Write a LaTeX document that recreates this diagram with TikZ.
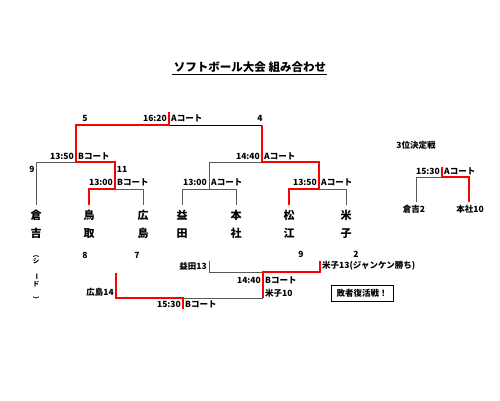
\documentclass[tikz,border=0pt]{standalone}
\usepackage{fontspec}
\setmainfont{Noto Sans CJK JP}
\usepackage{graphicx}
\begin{document}
\begin{tikzpicture}[x=1pt,y=-1pt,
  gl/.style={draw=black!65,line width=0.9pt},
  bl/.style={draw=black,line width=0.9pt},
  rl/.style={draw=red,line width=2pt,line join=miter},
  lab/.style={font=\bfseries\fontsize{8.5}{9}\selectfont,inner sep=0pt},
  team/.style={font=\bfseries\fontsize{11}{17.5}\selectfont,align=center,inner sep=0pt},
  num/.style={font=\bfseries\fontsize{8.5}{9}\selectfont,inner sep=0pt}]
\useasboundingbox (0,0) rectangle (500,400);
% title
\node[font=\bfseries\fontsize{11.5}{12}\selectfont,inner sep=0pt] (title) at (250,67) {ソフトボール大会 組み合わせ};
\coordinate (ul1) at (172,74); \coordinate (ul2) at (327,74);
\draw[line width=1pt] (ul1) -- (ul2);
% coordinates main bracket
\coordinate (Ft) at (169,112); \coordinate (F) at (169,125);
\coordinate (FL) at (76,125); \coordinate (FR) at (262,125);
\coordinate (SL) at (76,162); \coordinate (SLl) at (36,162); \coordinate (SLr) at (115,162);
\coordinate (Kb) at (36,205);
\coordinate (M1) at (115,189); \coordinate (M1l) at (89,189); \coordinate (M1r) at (143,189);
\coordinate (Tb) at (89,205); \coordinate (Hb) at (143,205);
\coordinate (SR) at (262,162); \coordinate (SRl) at (209,162); \coordinate (SRr) at (319,162);
\coordinate (M2) at (209,189); \coordinate (M2l) at (182,189); \coordinate (M2r) at (236,189);
\coordinate (Mb) at (182,205); \coordinate (Hsb) at (236,205);
\coordinate (M3) at (319,189); \coordinate (M3l) at (289,189); \coordinate (M3r) at (346,189);
\coordinate (Mtb) at (289,205); \coordinate (Yb) at (346,205);
% gray / black lines
\draw[bl] (F) -- (FR);
\draw[gl] (Kb) -- (SLl) -- (SL);
\draw[gl] (M1) -- (M1r) -- (Hb);
\draw[gl] (SR) -- (SRl) -- (M2);
\draw[gl] (Mb) -- (M2l) -- (M2r) -- (Hsb);
\draw[gl] (M3) -- (M3r) -- (Yb);
% red
\draw[rl] (Ft) -- (F) -- (FL) -- (SL) -- (SLr) -- (M1) -- (M1l) -- (Tb);
\draw[rl] (FR) -- (SR) -- (SRr) -- (M3) -- (M3l) -- (Mtb);
% labels
\node[lab,anchor=east] (t1) at (167,118) {16:20}; \node[lab,anchor=west] (c1) at (171,118) {Aコート};
\node[num] (n5) at (85,118) {5}; \node[num] (n4) at (260,118) {4};
\node[lab,anchor=east] (t2) at (74,156) {13:50}; \node[lab,anchor=west] (c2) at (78,156) {Bコート};
\node[num] (n9) at (32,169) {9}; \node[num] (n11) at (122,169) {11};
\node[lab,anchor=east] (t3) at (113,182) {13:00}; \node[lab,anchor=west] (c3) at (117,182) {Bコート};
\node[lab,anchor=east] (t4) at (260,156) {14:40}; \node[lab,anchor=west] (c4) at (264,156) {Aコート};
\node[lab,anchor=east] (t5) at (207,182) {13:00}; \node[lab,anchor=west] (c5) at (211,182) {Aコート};
\node[lab,anchor=east] (t6) at (317,182) {13:50}; \node[lab,anchor=west] (c6) at (321,182) {Aコート};
% teams
\node[team,anchor=north] (kura) at (36,210) {倉\\吉};
\node[team,anchor=north] (tott) at (89,210) {鳥\\取};
\node[team,anchor=north] (hiro) at (143,210) {広\\島};
\node[team,anchor=north] (masu) at (182,210) {益\\田};
\node[team,anchor=north] (hons) at (236,210) {本\\社};
\node[team,anchor=north] (mats) at (289,210) {松\\江};
\node[team,anchor=north] (yona) at (346,210) {米\\子};
\node[font=\bfseries\fontsize{6.5}{10}\selectfont,align=center,inner sep=0pt,anchor=north] (seed) at (36,251)
  {\rotatebox{-90}{（}\\シ\\\rotatebox{-90}{ー}\\ド\\\rotatebox{-90}{）}};
\node[num] (s8) at (85,255) {8}; \node[num] (s7) at (137,255) {7};
\node[num] (s9) at (301,254) {9}; \node[num] (s2) at (356,254) {2};
% loser bracket
\coordinate (Lm) at (209,261); \coordinate (Lmb) at (209,272);
\coordinate (Ly) at (320,261); \coordinate (Lyb) at (320,272);
\coordinate (L1) at (263,272); \coordinate (L1b) at (263,298);
\coordinate (Lh) at (116,273); \coordinate (Lhb) at (116,298);
\coordinate (L2) at (183,298); \coordinate (L2b) at (183,309);
\draw[gl] (Lm) -- (Lmb) -- (L1);
\draw[gl] (L1b) -- (L2);
\draw[rl] (Ly) -- (Lyb) -- (L1) -- (L1b);
\draw[rl] (Lh) -- (Lhb) -- (L2) -- (L2b);
\node[lab,anchor=east] (lm) at (207,266) {益田13};
\node[lab,anchor=west] (ly) at (322,266) {米子13(ジャンケン勝ち)};
\node[lab,anchor=east] (t7) at (261,280) {14:40}; \node[lab,anchor=west] (c7) at (265,280) {Bコート};
\node[lab,anchor=west] (ly2) at (265,293) {米子10};
\node[lab,anchor=east] (lh) at (114,292) {広島14};
\node[lab,anchor=east] (t8) at (181,304) {15:30}; \node[lab,anchor=west] (c8) at (185,304) {Bコート};
\node[lab,draw,line width=0.9pt,minimum width=62pt,minimum height=16pt] (box) at (362,293) {敗者復活戦！};
% 3rd place
\node[lab] (third) at (416,145) {3位決定戦};
\coordinate (Q) at (442,177); \coordinate (Qt) at (442,167);
\coordinate (Ql) at (416,177); \coordinate (Qr) at (469,177);
\coordinate (Qlb) at (416,202); \coordinate (Qrb) at (469,202);
\draw[gl] (Qlb) -- (Ql) -- (Q);
\draw[rl] (Qt) -- (Q) -- (Qr) -- (Qrb);
\node[lab,anchor=east] (t9) at (440,171) {15:30}; \node[lab,anchor=west] (c9) at (444,171) {Aコート};
\node[lab] (k2) at (414,209) {倉吉2}; \node[lab] (h10) at (470,209) {本社10};
\end{tikzpicture}
\end{document}
